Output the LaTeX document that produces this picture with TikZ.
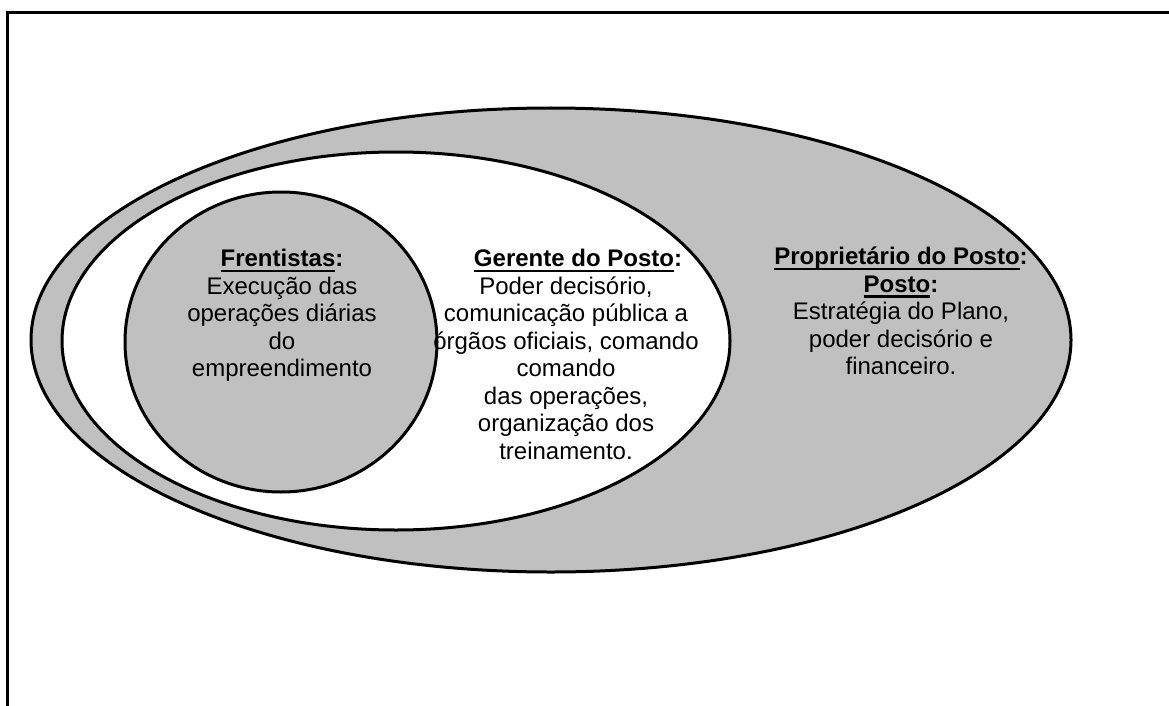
\documentclass[tikz,border=0pt]{standalone}
\usepackage{fontspec}
\setmainfont{Liberation Sans}
\definecolor{bandgray}{RGB}{192,192,192}
%% underlined heading word, thick rule as in the original
\newcommand{\rolehead}[1]{\setbox0=\hbox{#1}\rlap{\rule[-5.5pt]{\wd0}{2.4pt}}\box0}

\begin{document}
\begin{tikzpicture}[x=1pt,y=-1pt,
    ring/.style={draw=black,line width=3pt},
    roletext/.style={anchor=north,inner sep=0pt,align=center,
      font=\fontsize{24}{27.5}\selectfont}]
  \clip (0,0) rectangle (1169,706);

  %% page frame (runs off to the right and bottom)
  \draw[line width=3pt] (7,740) -- (7,13) -- (1200,13);

  %% nested sets
  \draw[ring,fill=bandgray] (551,340) ellipse [x radius=520, y radius=232];
  \draw[ring,fill=white] (396,341) ellipse [x radius=334, y radius=189];
  \draw[ring,fill=bandgray] (281,342) ellipse [x radius=156, y radius=150];

  \node (FRE) at (282,249) [roletext] {\textbf{\rolehead{Frentistas}:}\\
    Execução das\\operações diárias\\do\\empreendimento};
  \node (GER) at (566,249) [roletext] {\hspace*{24pt}\textbf{\rolehead{Gerente do Posto}:}\\
    Poder decisório,\\comunicação pública a\\órgãos oficiais, comando\\comando\\
    das operações,\\organização dos\\treinamento.};
  \node (PRO) at (901,247) [roletext] {\textbf{\rolehead{Proprietário do Posto}:}\\
    \textbf{\rolehead{Posto}:}\\Estratégia do Plano,\\poder decisório e\\financeiro.};

\end{tikzpicture}
\end{document}
